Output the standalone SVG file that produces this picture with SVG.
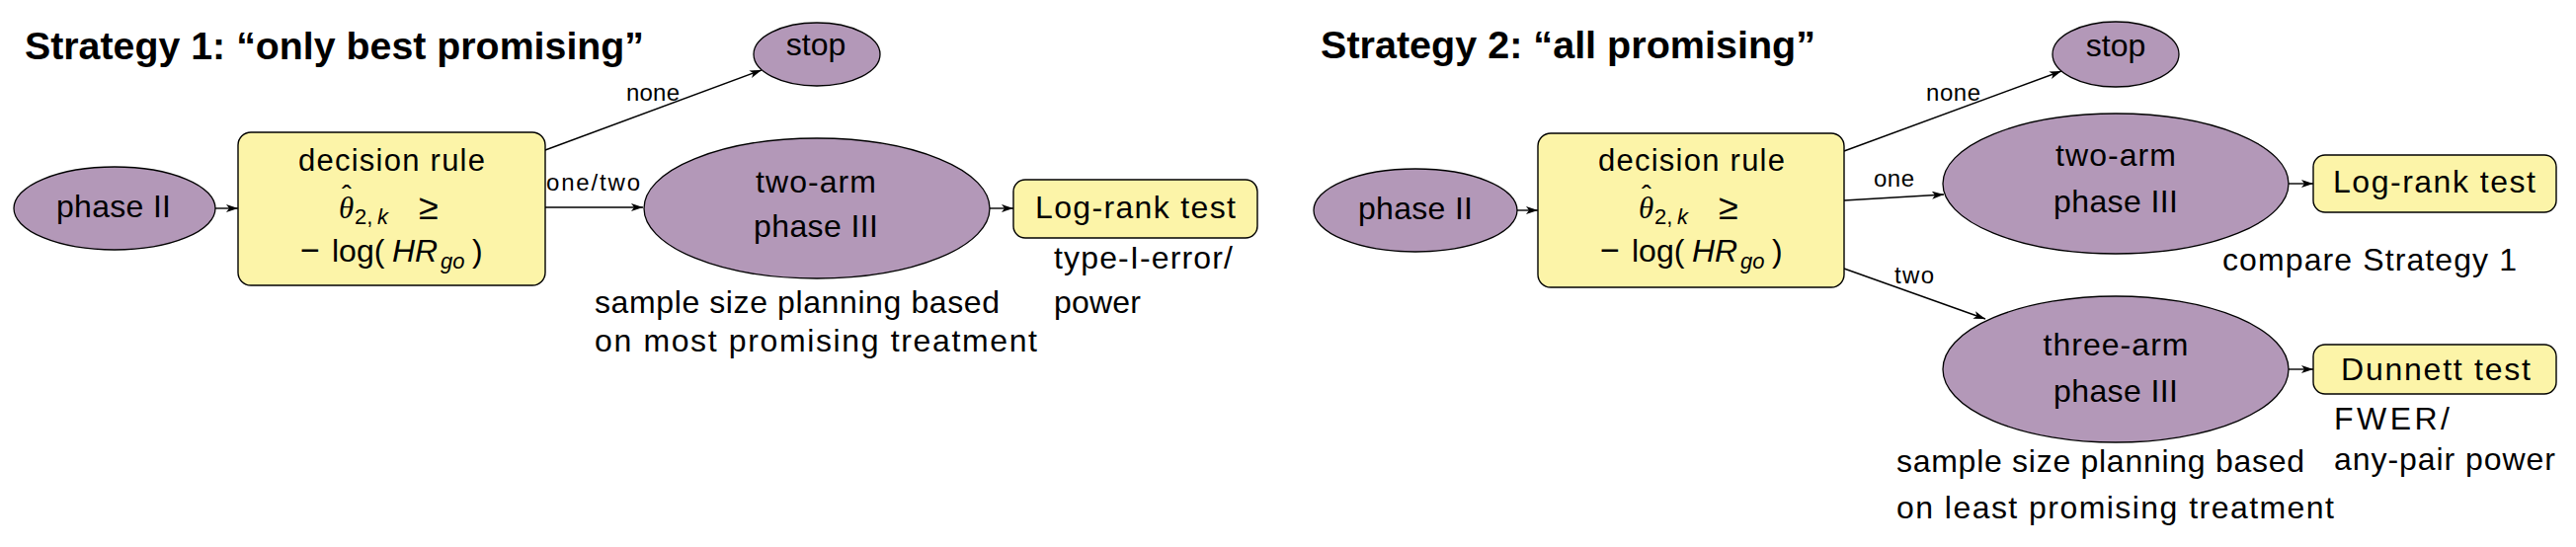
<svg xmlns="http://www.w3.org/2000/svg" width="2608" height="554" viewBox="0 0 2608 554">
<defs>
<style>
.bg{fill:#ffffff}
.ell{fill:#B398B8;stroke:#000;stroke-width:1.3}
.box{fill:#FCF4A8;stroke:#000;stroke-width:1.4}
text{font-family:"Liberation Sans",Arial,sans-serif;fill:#000}
.title{font-size:39px;font-weight:bold}
.node{font-size:32px}
.box-t{font-size:31px}
.lbl{font-size:24px}
.mi{font-style:italic}
.gr{font-family:"Liberation Serif","Times New Roman",serif;font-style:italic}
.up{font-family:"Liberation Sans",Arial,sans-serif;font-style:normal}
.ski{font-family:"Liberation Sans",Arial,sans-serif;font-style:italic}
.conn{stroke:#000;stroke-width:1.4;fill:none}
</style>
<marker id="arr" viewBox="0 0 12 8" refX="12" refY="4" markerWidth="12" markerHeight="8" markerUnits="userSpaceOnUse" orient="auto">
<path d="M0,0 L12,4 L0,8 L3,4 z" fill="#000"/>
</marker>
</defs>
<rect class="bg" x="0" y="0" width="2608" height="554"/>

<!-- Titles -->
<text id="title1" class="title" x="25" y="60" textLength="627" lengthAdjust="spacingAndGlyphs">Strategy 1: “only best promising”</text>
<text id="title2" class="title" x="1337" y="59" textLength="501" lengthAdjust="spacingAndGlyphs">Strategy 2: “all promising”</text>

<!-- Connectors -->
<g id="connectors">
<line class="conn" x1="218" y1="211" x2="241" y2="211" marker-end="url(#arr)"/>
<line class="conn" x1="552" y1="152" x2="771" y2="71" marker-end="url(#arr)"/>
<line class="conn" x1="552" y1="210" x2="651" y2="210" marker-end="url(#arr)"/>
<line class="conn" x1="1002" y1="211" x2="1026" y2="211" marker-end="url(#arr)"/>
<line class="conn" x1="1536" y1="213" x2="1557" y2="213" marker-end="url(#arr)"/>
<line class="conn" x1="1867" y1="153" x2="2087" y2="72" marker-end="url(#arr)"/>
<line class="conn" x1="1867" y1="203" x2="1968" y2="197" marker-end="url(#arr)"/>
<line class="conn" x1="1867" y1="272" x2="2010" y2="323" marker-end="url(#arr)"/>
<line class="conn" x1="2317" y1="186" x2="2342" y2="186" marker-end="url(#arr)"/>
<line class="conn" x1="2317" y1="374" x2="2342" y2="374" marker-end="url(#arr)"/>
<text class="lbl" x="634" y="102" textLength="54">none</text>
<text class="lbl" x="553" y="193" textLength="95">one/two</text>
<text class="lbl" x="1950" y="102" textLength="55">none</text>
<text class="lbl" x="1897" y="189" textLength="41">one</text>
<text class="lbl" x="1918" y="287" textLength="40">two</text>
</g>

<!-- Strategy 1 -->
<g id="s1-phase2">
<ellipse class="ell" cx="116" cy="211" rx="102" ry="42"/>
<text class="node" x="115" y="220" text-anchor="middle" textLength="116">phase II</text>
</g>

<g id="s1-decision">
<rect class="box" x="241" y="134" width="311" height="155" rx="13"/>
<text class="box-t" x="302" y="173" textLength="189">decision rule</text>
<text class="gr" x="343" y="221" font-size="31">θ<tspan class="up" x="346" y="208" font-size="30">ˆ</tspan><tspan class="up" x="359" y="227" font-size="22">2,</tspan><tspan class="ski" x="382" y="227" font-size="22">k</tspan></text>
<text x="424" y="222" font-size="36">≥</text>
<text x="304" y="265" font-size="34">−</text>
<text x="336" y="265" font-size="32">log(</text>
<text class="mi" x="397" y="265" font-size="32">HR</text>
<text class="mi" x="446" y="272" font-size="22">go</text>
<text x="478" y="265" font-size="32">)</text>
</g>

<g id="s1-stop">
<ellipse class="ell" cx="827" cy="55" rx="64" ry="32"/>
<text class="node" x="826" y="56" text-anchor="middle">stop</text>
</g>

<g id="s1-twoarm">
<ellipse class="ell" cx="827" cy="211" rx="175" ry="71"/>
<text class="node" x="826" y="195" text-anchor="middle" textLength="122">two-arm</text>
<text class="node" x="826" y="240" text-anchor="middle" textLength="126">phase III</text>
<text class="node" x="602" y="317" textLength="410">sample size planning based</text>
<text class="node" x="602" y="356" textLength="448">on most promising treatment</text>
</g>

<g id="s1-logrank">
<rect class="box" x="1026" y="182" width="247" height="59" rx="12"/>
<text class="node" x="1048" y="221" textLength="203">Log-rank test</text>
<text class="node" x="1067" y="272" textLength="181">type-I-error/</text>
<text class="node" x="1067" y="317" textLength="88">power</text>
</g>

<!-- Strategy 2 -->
<g id="s2-phase2">
<ellipse class="ell" cx="1433" cy="213" rx="103" ry="42"/>
<text class="node" x="1433" y="222" text-anchor="middle" textLength="116">phase II</text>
</g>

<g id="s2-decision" transform="translate(1316,0)">
<rect class="box" x="241" y="135" width="310" height="156" rx="13"/>
<text class="box-t" x="302" y="173" textLength="189">decision rule</text>
<text class="gr" x="343" y="221" font-size="31">θ<tspan class="up" x="346" y="208" font-size="30">ˆ</tspan><tspan class="up" x="359" y="227" font-size="22">2,</tspan><tspan class="ski" x="382" y="227" font-size="22">k</tspan></text>
<text x="424" y="222" font-size="36">≥</text>
<text x="304" y="265" font-size="34">−</text>
<text x="336" y="265" font-size="32">log(</text>
<text class="mi" x="397" y="265" font-size="32">HR</text>
<text class="mi" x="446" y="272" font-size="22">go</text>
<text x="478" y="265" font-size="32">)</text>
</g>

<g id="s2-stop">
<ellipse class="ell" cx="2142" cy="55" rx="64" ry="33"/>
<text class="node" x="2142" y="57" text-anchor="middle">stop</text>
</g>

<g id="s2-twoarm">
<ellipse class="ell" cx="2142" cy="186" rx="175" ry="71"/>
<text class="node" x="2142" y="168" text-anchor="middle" textLength="122">two-arm</text>
<text class="node" x="2142" y="215" text-anchor="middle" textLength="126">phase III</text>
</g>

<g id="s2-logrank">
<rect class="box" x="2342" y="157" width="246" height="58" rx="12"/>
<text class="node" x="2362" y="195" textLength="205">Log-rank test</text>
<text class="node" x="2250" y="274" textLength="298">compare Strategy 1</text>
</g>

<g id="s2-threearm">
<ellipse class="ell" cx="2142" cy="374" rx="175" ry="74"/>
<text class="node" x="2142" y="360" text-anchor="middle" textLength="147">three-arm</text>
<text class="node" x="2142" y="407" text-anchor="middle" textLength="126">phase III</text>
<text class="node" x="1920" y="478" textLength="413">sample size planning based</text>
<text class="node" x="1920" y="525" textLength="443">on least promising treatment</text>
</g>

<g id="s2-dunnett">
<rect class="box" x="2342" y="349" width="246" height="50" rx="12"/>
<text class="node" x="2370" y="385" textLength="192">Dunnett test</text>
<text class="node" x="2363" y="435" textLength="117">FWER/</text>
<text class="node" x="2363" y="476" textLength="224">any-pair power</text>
</g>
</svg>
